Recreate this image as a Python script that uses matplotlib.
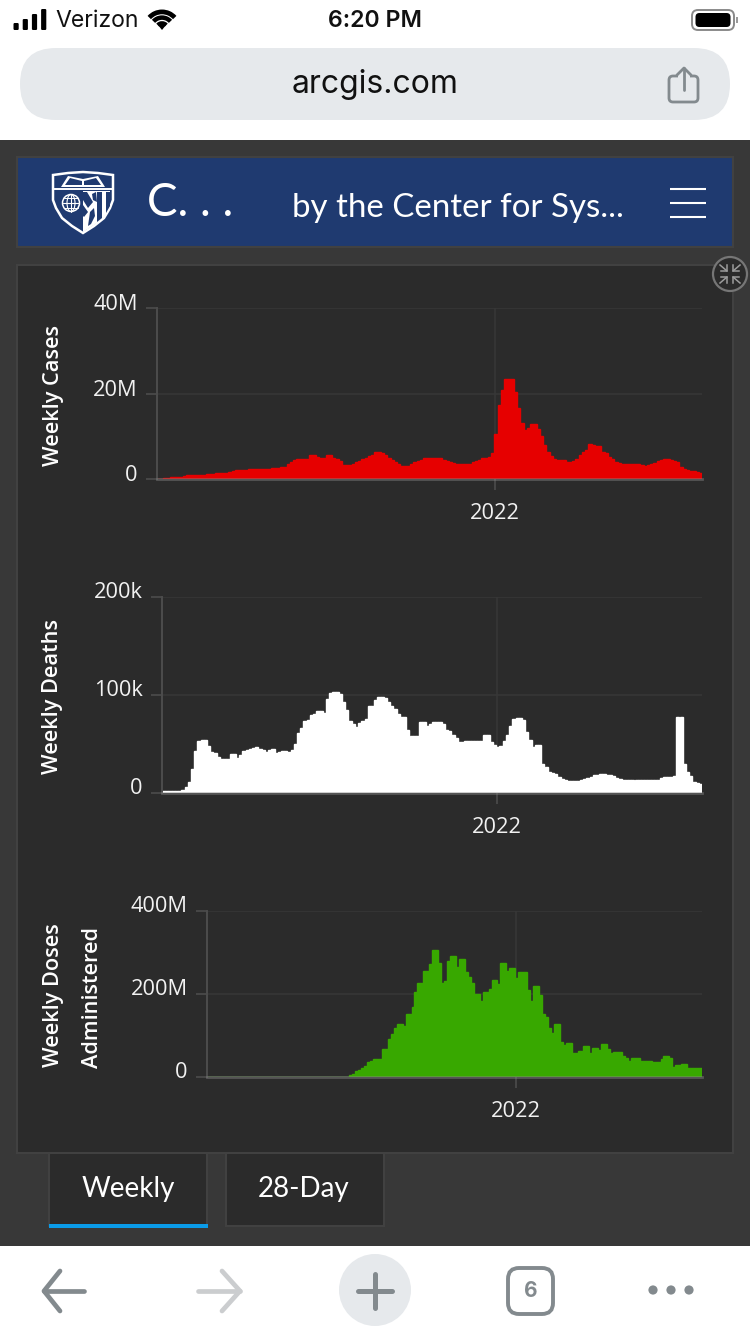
import numpy as np
import matplotlib
matplotlib.use("Agg")
import matplotlib.pyplot as plt
from matplotlib.patches import Rectangle, FancyBboxPatch, Circle, Ellipse, Polygon, Arc
from matplotlib.transforms import ScaledTranslation

W, H = 750, 1334

# Weekly values; one entry per week.
cases_m = [
    .1, .1, .2, .3, .4, .5, .5, .5,
    .6, .9, 1.0, 1.05, 1.05, 1.05, 1.05, 1.1,
    1.15, 1.2, 1.3, 1.35, 1.4, 1.45, 1.6, 1.85,
    2.0, 2.1, 2.15, 2.2, 2.25, 2.25, 2.25, 2.25,
    2.3, 2.3, 2.4, 2.5, 2.6, 2.65, 2.7, 2.9,
    3.4, 4.0, 4.4, 4.6, 4.6, 4.65, 4.65, 5.6,
    5.6, 5.1, 4.8, 5.0, 5.6, 5.6, 5.0, 4.6,
    4.2, 3.2, 3.2, 3.2, 3.5, 4.0, 4.3, 4.6,
    5.0, 5.4, 5.7, 6.2, 6.2, 6.0, 5.6, 5.0,
    4.4, 3.9, 3.4, 3.1, 3.1, 3.1, 3.4, 3.95,
    4.3, 4.5, 4.8, 4.9, 5.0, 5.0, 5.0, 4.8,
    4.4, 4.3, 4.0, 3.7, 3.5, 3.5, 3.5, 3.5,
    3.6, 3.9, 4.3, 4.5, 4.8, 5.0, 5.2, 6.0,
    10.5, 17.4, 20.9, 23.4, 23.4, 23.4, 20.3, 16.6,
    13.2, 11.4, 12.0, 12.8, 12.8, 11.6, 10.0, 7.9,
    6.2, 5.3, 4.6, 4.5, 4.5, 4.5, 3.9, 3.9,
    4.2, 4.6, 5.7, 6.3, 6.9, 8.1, 8.0, 7.8,
    7.7, 6.4, 6.1, 5.2, 4.6, 4.0, 3.8, 3.6,
    3.6, 3.6, 3.6, 3.5, 3.4, 3.2, 3.1, 3.3,
    3.5, 3.8, 4.2, 4.5, 4.6, 4.6, 4.5, 4.3,
    3.9, 2.9, 2.3, 2.1, 1.95, 1.8, 1.7, 1.5,
]

deaths_k = [
    2.4, 2.4, 2.4, 2.4, 2.4, 2.4, 2.6, 5.8,
    11, 24.5, 43, 53, 54, 54, 48, 42,
    40.5, 37, 35, 34.7, 35, 39.5, 40, 36,
    39, 43, 44, 44.5, 46, 46.6, 45, 44,
    42, 44, 44.5, 40.5, 42, 43, 43, 42,
    44, 50, 61, 66, 73, 75, 80, 81,
    84, 84, 82, 95.5, 101.7, 103, 103, 101,
    92.5, 84.7, 73, 70, 67, 71, 73, 75.5,
    89, 89, 95, 98, 98, 96.6, 92.5, 89,
    86, 80.6, 78, 78, 64, 58.5, 58, 58.5,
    72, 72, 68.7, 70, 72, 72, 72, 70,
    64, 63, 59, 56, 52, 52, 53, 53,
    53, 53, 53, 53, 59, 59, 52, 49,
    47, 48, 53.4, 59, 68, 76, 77, 77,
    74, 62.5, 54, 47, 49, 49, 30, 27,
    21.8, 20, 19.4, 16.7, 14.3, 13.3, 12.6, 12.6,
    12.6, 12.6, 13, 14, 15.6, 16.7, 18, 18.7,
    19, 19, 18.7, 18, 17.3, 15.3, 14, 13.3,
    13, 13, 13, 13.3, 13.3, 13.3, 13, 13,
    13, 13.3, 13.6, 15.3, 16, 16, 16.7, 17.3,
    78, 78, 30, 21, 17, 11, 10.5, 9,
]

doses_m = [0] * 48 + [
    5, 7, 14, 18, 22, 26, 36, 39,
    43, 44, 42.5, 68, 68, 91.5, 103, 119,
    127, 127, 123, 151, 151, 169, 204, 227,
    227, 256, 256, 272, 306, 306, 275, 226,
    232, 279, 292, 292, 264, 284, 284, 252,
    240, 227, 201, 201, 184, 204, 204, 212,
    234, 234, 223, 274, 274, 256, 262, 262,
    239, 254, 254, 254, 210, 183, 219, 219,
    197, 152, 145, 119, 107, 128, 128, 85,
    76, 81, 81, 59, 59, 62, 62, 75,
    75, 57, 71, 71, 65, 79.5, 79.5, 67,
    57, 60, 60, 60, 50.6, 45, 39, 46,
    46, 46, 38, 38, 38, 38, 36, 36,
    36, 43, 50, 50, 45, 25, 29, 29,
    30.5, 30.5, 21, 21, 22.5, 22.5, 22,
]

cases_ticks, cases_tick_labels = [0, 20, 40], ["0", "20M", "40M"]
deaths_ticks, deaths_tick_labels = [0, 100, 200], ["0", "100k", "200k"]
doses_ticks, doses_tick_labels = [0, 200, 400], ["0", "200M", "400M"]
year_week = 104.3
year_label = "2022"

PAGE = "#383838"
PANEL = "#2b2b2b"
BORDER = "#414141"
NAVY = "#1f3a70"
GREY = "#838a8e"
AXIS = "#4c4c4c"
UI_FONT = ["Lato", "DejaVu Sans"]
CHART_FONT = ["Open Sans", "DejaVu Sans"]
SYS_FONT = ["Inter", "DejaVu Sans"]

fig = plt.figure(figsize=(W / 100, H / 100), dpi=100, facecolor="white")
bg = fig.add_axes([0, 0, 1, 1])
bg.set_xlim(0, W)
bg.set_ylim(H, 0)
bg.axis("off")


def rect(x0, y0, x1, y1, fc, ec="none", lw=0, z=1):
    bg.add_patch(Rectangle((x0, y0), x1 - x0, y1 - y0, fc=fc, ec=ec, lw=lw, zorder=z))


def line(xs, ys, color="white", lw=2.0, z=3, cap="round", **kw):
    bg.plot(xs, ys, color=color, lw=lw, zorder=z, solid_capstyle=cap, **kw)


def poly(pts, fc="white", ec="none", lw=0, z=4):
    bg.add_patch(Polygon(pts, closed=True, fc=fc, ec=ec, lw=lw, zorder=z))


def txt(x, y, s, size, color="white", ha="center", font=UI_FONT, **kw):
    bg.text(x, y, s, fontsize=size, color=color, ha=ha, va="center", family=font, zorder=5, **kw)


# page blocks
rect(0, 140, W, 1246, PAGE)
rect(17, 157, 733, 247, NAVY, BORDER, 1.5, 2)
rect(17, 265, 733, 1153, PANEL, BORDER, 1.5, 2)

# status bar
for i, h in enumerate([7, 11, 16, 21]):
    bg.add_patch(FancyBboxPatch((13.5 + i * 9.2, 30 - h), 5.2, h, boxstyle="round,pad=0,rounding_size=1.2", fc="black", ec="none", zorder=3))
txt(55, 21, "Verizon", 16.6, "#111111", ha="left", font=SYS_FONT)
for r, t in [(18, 3.8), (12, 3.6), (6, 3.4)]:
    bg.add_patch(Arc((162, 29), 2 * r * .95, 2 * r * .95, theta1=222, theta2=318, color="black", lw=t * .9, zorder=3))
poly([[158, 25], [166, 25], [162, 30]], "black", z=3)
txt(375, 21, "6:20 PM", 16.7, "#111111", font=SYS_FONT, fontweight="semibold")
bg.add_patch(FancyBboxPatch((692, 10), 42, 20, boxstyle="round,pad=0,rounding_size=6", fc="white", ec="#8a8a8a", lw=1.4, zorder=3))
bg.add_patch(FancyBboxPatch((695.5, 13), 35, 14, boxstyle="round,pad=0,rounding_size=4", fc="black", ec="none", zorder=4))
rect(736, 17, 737.6, 23, "#9a9a9a", z=3)

# url bar
bg.add_patch(FancyBboxPatch((20, 48), 710, 72, boxstyle="round,pad=0,rounding_size=36", fc="#e6e9ec", ec="none", zorder=2))
txt(375, 84, "arcgis.com", 23, "#111111", font=SYS_FONT)
bg.add_patch(FancyBboxPatch((669, 76), 29, 26, boxstyle="round,pad=0,rounding_size=4", fc="none", ec=GREY, lw=2.0, zorder=3))
rect(678, 72, 690, 80, "#e6e9ec", z=3.2)
line([684, 684], [68, 90], GREY, 2.0, 3.5)
line([677, 684, 691], [75, 68, 75], GREY, 2.0, 3.5)

# header: shield logo
shield = [[53, 175], [68, 173], [83, 172], [98, 173], [113, 175], [113, 200], [110, 208], [104, 218], [94, 226], [83, 233],
          [72, 226], [62, 218], [56, 208], [53, 200]]
poly(shield, NAVY, "white", 1.8, 3)
line([54, 112], [189, 189], "white", 1.4, 4)
poly([[61, 187], [68, 176], [83, 179], [98, 176], [105, 187]], "white", z=4)
poly([[65, 185], [70, 178], [82, 181], [82, 185]], NAVY, z=4.5)
poly([[84, 185], [84, 181], [96, 178], [101, 185]], NAVY, z=4.5)
bg.add_patch(Circle((71, 203), 8.5, fc="none", ec="white", lw=1.1, zorder=4))
bg.add_patch(Ellipse((71, 203), 8, 17, fc="none", ec="white", lw=.8, zorder=4))
line([63, 79], [203, 203], "white", .8, 4)
line([64, 78], [198, 198], "white", .7, 4)
line([64, 78], [208, 208], "white", .7, 4)
line([71, 71], [195, 212], "white", .8, 4)
poly([[83, 191], [110, 191], [110, 207], [104, 217], [94, 225], [83, 232]], "white", z=4)
poly([[83, 192], [87, 192], [93, 202], [88, 208], [83, 200]], NAVY, z=4.5)
poly([[83, 205], [88, 212], [84, 217], [83, 216]], NAVY, z=4.5)
poly([[92, 194], [96, 192], [97, 202], [93, 200]], NAVY, z=4.5)
poly([[90, 212], [94, 208], [95, 216], [91, 224], [88, 226]], NAVY, z=4.5)
poly([[97, 192], [102, 192], [102, 218], [97, 222]], NAVY, z=4.5)
poly([[106, 192], [110, 192], [110, 206], [106, 213]], NAVY, z=4.5)

# header text and menu
txt(147, 203, "C. . .", 33, ha="left")
txt(292, 208, "by the Center for Sys...", 23.8, ha="left")
for y in [189, 203, 217]:
    line([670, 706], [y, y], "white", 1.5, cap="butt")

# collapse icon
bg.add_patch(Circle((730, 274), 17, fc=PANEL, ec="#767676", lw=1.6, zorder=6))
for sx, sy in [(-1, -1), (1, -1), (-1, 1), (1, 1)]:
    x0, y0, x1, y1 = 730 + sx * 10, 274 + sy * 9, 730 + sx * 3, 274 + sy * 3
    bg.plot([x0, x1], [y0, y1], color="#9c9c9c", lw=1.1, zorder=7)
    bg.plot([x1, x1, x1 + sx * 6], [y1 + sy * 6, y1, y1], color="#9c9c9c", lw=1.1, zorder=7)

# y titles
for x, y, s in [(53, 395, "Weekly Cases"), (53, 696, "Weekly Deaths"), (53, 995, "Weekly Doses"), (92, 998, "Administered")]:
    bg.text(x, y, s, fontsize=15.7, color="white", rotation=90, ha="center", va="center", family=CHART_FONT, fontweight="semibold", zorder=5)


def chart(values, left, right, top, bottom, ymax, ticks, labels, color, label_up):
    ax = fig.add_axes([left / W, 1 - bottom / H, (right - left) / W, (bottom - top) / H])
    ax.patch.set_alpha(0)
    x = np.arange(len(values))
    ax.bar(x, values, width=1.0, align="edge", color=color, linewidth=1.0, edgecolor=color, zorder=2)
    ax.set_xlim(0, len(values))
    ax.set_ylim(0, ymax)
    for s in ["top", "right", "bottom"]:
        ax.spines[s].set_visible(False)
    ax.spines["left"].set_color(AXIS)
    ax.spines["left"].set_linewidth(1.4)
    ax.set_yticks(ticks)
    ax.set_yticklabels(labels, fontsize=15.7, color="#f2f2f2", family=CHART_FONT)
    ax.tick_params(axis="y", length=8, width=1.2, color=AXIS, pad=6)
    ax.set_xticks([year_week])
    ax.set_xticklabels([year_label], fontsize=15.7, color="#f2f2f2", family=CHART_FONT)
    ax.tick_params(axis="x", length=8, width=1.2, color=AXIS, pad=9)
    off = ScaledTranslation(0, label_up / 100, fig.dpi_scale_trans)
    for lab in ax.get_yticklabels():
        lab.set_transform(lab.get_transform() + off)
    ax.grid(True, color="#373737", lw=1.2, zorder=1)
    ax.set_axisbelow(True)
    ax.axhline(0, color="#8a8a8a", alpha=.45, lw=2.0, zorder=3, clip_on=False)
    return ax


chart(cases_m, 157, 702, 308, 479, 40, cases_ticks, cases_tick_labels, "#e60000", 6)
chart(deaths_k, 162, 702, 597, 793, 200, deaths_ticks, deaths_tick_labels, "#ffffff", 7)
chart(doses_m, 207, 702, 911, 1077, 400, doses_ticks, doses_tick_labels, "#38a800", 7)

# tabs
rect(49, 1153, 207, 1226, PANEL, BORDER, 1.5, 3)
rect(49, 1224, 208, 1228, "#0a9be8", z=4)
rect(226, 1153, 384, 1226, PANEL, BORDER, 1.5, 3)
txt(128, 1189, "Weekly", 20)
txt(304, 1189, "28-Day", 20)

# bottom bar
line([44, 84], [1291, 1291], GREY, 3.4)
line([60, 44, 60], [1271, 1291, 1311], GREY, 3.4)
line([198, 240], [1291, 1291], "#cbcdcf", 3.4)
line([222, 240, 222], [1271, 1291, 1311], "#cbcdcf", 3.4)
bg.add_patch(Circle((375, 1290), 36, fc="#e6e9ec", ec="none", zorder=2))
line([358, 392], [1291, 1291], GREY, 3.6)
line([375, 375], [1274, 1308], GREY, 3.6)
bg.add_patch(FancyBboxPatch((508, 1268), 45, 46, boxstyle="round,pad=0,rounding_size=11", fc="white", ec=GREY, lw=2.8, zorder=3))
txt(530.5, 1291, "6", 15, GREY, font=SYS_FONT, fontweight="bold")
for x in [653, 671, 689]:
    bg.add_patch(Circle((x, 1290), 4.6, fc=GREY, ec="none", zorder=3))

fig.savefig("out.png", dpi=100, facecolor="white")
